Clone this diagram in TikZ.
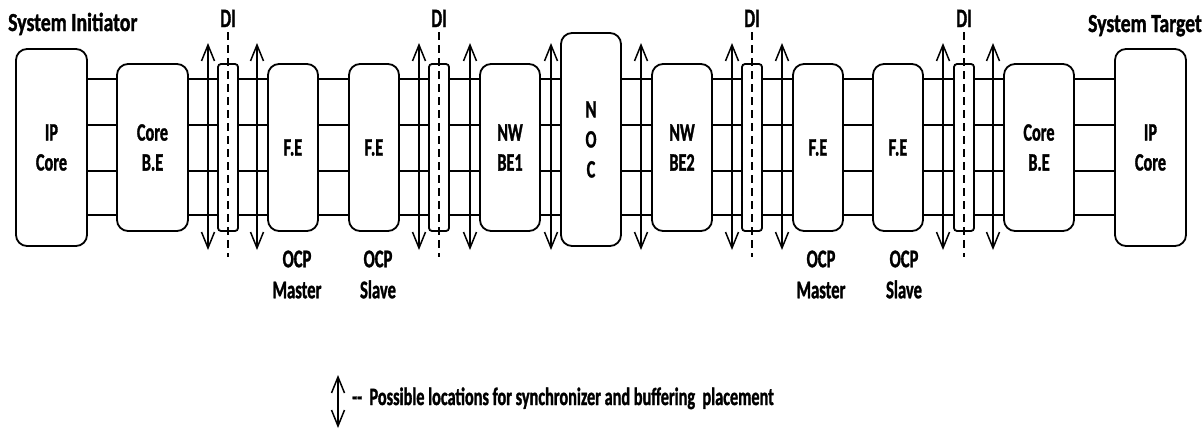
\documentclass[tikz,border=0pt]{standalone}
\usepackage{fontspec}
\setmainfont{Carlito}[FakeStretch=0.65, FakeBold=1.2]
\newfontfamily\titlefont{Carlito}[FakeStretch=0.76, FakeBold=1.2]
\usetikzlibrary{arrows.meta}
\tikzset{
  blk/.style={draw, line width=1.8pt, rounded corners=11pt, align=center, inner sep=0pt, minimum height=167pt, fill=white,
    font=\fontsize{25}{30}\selectfont\bfseries},
  dibox/.style={draw, line width=1.8pt, rounded corners=3pt, inner sep=0pt, minimum width=20pt, minimum height=167pt, fill=white},
  wire/.style={line width=1.8pt},
  sync/.style={line width=1.5pt, {Straight Barb[length=16pt,width=13pt]}-{Straight Barb[length=16pt,width=13pt]}},
  diline/.style={line width=1.2pt, dash pattern=on 8pt off 5pt},
  lbl/.style={align=center, inner sep=0pt},
  ocplbl/.style={lbl, font=\fontsize{25.5}{31}\selectfont\bfseries},
  dilbl/.style={lbl, font=\fontsize{26.5}{30}\selectfont\bfseries},
  title/.style={lbl, font=\titlefont\fontsize{26}{30}\selectfont\bfseries},
  legtext/.style={lbl, font=\fontsize{25}{30}\selectfont\bfseries},
}
\begin{document}
\begin{tikzpicture}[x=1pt,y=-1pt]
\useasboundingbox (0,0) rectangle (1204,429);
% boxes
\node[blk, minimum width=71pt, minimum height=197pt] (ip1) at (51.5,147.5) {IP\\Core};
\node[blk, minimum width=71pt] (cbe1) at (152.5,147.5) {Core\\B.E};
\node[dibox] (di1) at (228,147.5) {};
\node[blk, minimum width=50pt] (fe1) at (293,147.5) {F.E};
\node[blk, minimum width=50pt] (fe2) at (374,147.5) {F.E};
\node[dibox] (di2) at (439,147.5) {};
\node[blk, minimum width=60pt] (nw1) at (510,147.5) {NW\\BE1};
\node[blk, minimum width=60pt, minimum height=213pt] (noc) at (591,139.5) {N\\O\\C};
\node[blk, minimum width=60pt] (nw2) at (682,147.5) {NW\\BE2};
\node[dibox] (di3) at (752,147.5) {};
\node[blk, minimum width=50pt] (fe3) at (818,147.5) {F.E};
\node[blk, minimum width=50pt] (fe4) at (898,147.5) {F.E};
\node[dibox] (di4) at (964,147.5) {};
\node[blk, minimum width=70pt] (cbe2) at (1039,147.5) {Core\\B.E};
\node[blk, minimum width=71pt, minimum height=197pt] (ip2) at (1150.5,147.5) {IP\\Core};
% wires
\foreach \a/\b in {ip1/cbe1, cbe1/di1, di1/fe1, fe1/fe2, fe2/di2, di2/nw1, nw1/noc, noc/nw2, nw2/di3, di3/fe3, fe3/fe4, fe4/di4, di4/cbe2, cbe2/ip2}
  \foreach \y in {79,125,171,215}
    \draw[wire] (\a.east |- 0,\y) -- (\b.west |- 0,\y);
% DI dashed lines and labels
\foreach \n/\x in {1/228, 2/439, 3/752, 4/964} {
  \draw[diline] (\x,32) -- (\x,257);
  \node[dilbl, anchor=base] (dil\n) at (\x,27) {DI};
}
% synchronizer arrows
\foreach \x in {208,257,419,470,551,641,732,782,943,993}
  \draw[sync] (\x,43) -- (\x,250);
% titles
\node[title, anchor=base west] (tinit) at (8,31) {System Initiator};
\node[title, anchor=base east] (ttarg) at (1202,32) {System Target};
% OCP labels
\node[ocplbl] (ocp1) at (297,274.5) {OCP\\Master};
\node[ocplbl] (ocp2) at (378,274.5) {OCP\\Slave};
\node[ocplbl] (ocp3) at (821,274.5) {OCP\\Master};
\node[ocplbl] (ocp4) at (904,274.5) {OCP\\Slave};
% legend
\draw[sync] (338,375) -- (338,428);
\node[legtext, anchor=base west] (leg) at (352,405) {-{}-\ \ Possible locations for synchronizer and buffering\ \ placement};
\end{tikzpicture}
\end{document}
